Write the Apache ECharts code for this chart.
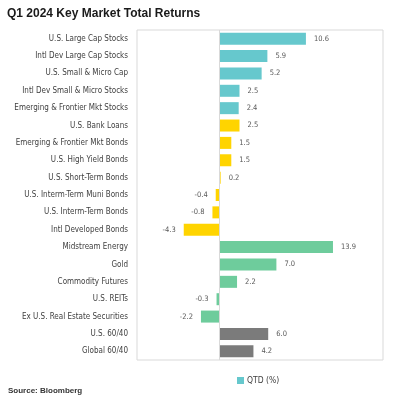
<!DOCTYPE html>
<html>
<head>
<meta charset="utf-8">
<script src="https://cdn.jsdelivr.net/npm/echarts@6/dist/echarts.min.js"></script>
<style>html,body{margin:0;padding:0;background:#fff}#c{width:393px;height:402px}</style>
</head>
<body>
<div id="c"></div>
<script>
const categories = [
  "U.S. Large Cap Stocks","Intl Dev Large Cap Stocks","U.S. Small & Micro Cap",
  "Intl Dev Small & Micro Stocks","Emerging & Frontier Mkt Stocks","U.S. Bank Loans",
  "Emerging & Frontier Mkt Bonds","U.S. High Yield Bonds","U.S. Short-Term Bonds",
  "U.S. Interm-Term Muni Bonds","U.S. Interm-Term Bonds","Intl Developed Bonds",
  "Midstream Energy","Gold","Commodity Futures","U.S. REITs",
  "Ex U.S. Real Estate Securities","U.S. 60/40","Global 60/40"
];
const qtdValues = [10.6, 5.9, 5.2, 2.5, 2.4, 2.5, 1.5, 1.5, 0.2, -0.4, -0.8, -4.3, 13.9, 7.0, 2.2, -0.3, -2.2, 6.0, 4.2];
const groups = ["equity","equity","equity","equity","equity","bond","bond","bond","bond","bond","bond","bond","real","real","real","real","real","mix","mix"];
const groupColors = {equity:"#66C8CD", bond:"#FFD400", real:"#6ECC9C", mix:"#7B7B7B"};

const narrow = "'DejaVu Sans Condensed','Liberation Sans Narrow','Arial Narrow','Roboto',sans-serif";
const chart = echarts.init(document.getElementById('c'), null, {renderer:'canvas'});
chart.setOption({
  animation:false,
  title:[
    {text:"Q1 2024 Key Market Total Returns", left:2, top:3,
     textStyle:{fontFamily:"'Liberation Sans',Arial,sans-serif", fontWeight:'bold', fontSize:12, color:'#1a1a1a'}},
    {text:"Source: Bloomberg", left:3, top:382,
     textStyle:{fontFamily:"'Liberation Sans',Arial,sans-serif", fontWeight:'bold', fontSize:8, color:'#333'}}
  ],
  legend:{
    data:["QTD (%)"], left:232, top:371, itemWidth:7, itemHeight:7, itemGap:4,
    icon:'rect',
    textStyle:{fontFamily:narrow, fontSize:8.5, color:'#404040', padding:[0,0,0,-2]}
  },
  grid:{left:137, right:10, top:30, bottom:42, show:true, borderColor:'#d9d9d9', borderWidth:1, containLabel:false},
  xAxis:{type:'value', min:-10, max:20, axisLabel:{show:false}, axisLine:{show:false}, axisTick:{show:false}, splitLine:{show:false}},
  yAxis:{type:'category', data:categories, inverse:true,
    axisLine:{show:false}, axisTick:{show:false},
    axisLabel:{fontFamily:narrow, fontSize:8, color:'#404040', margin:9}},
  series:[{
    name:"QTD (%)", type:'bar', barWidth:12,
    itemStyle:{color:groupColors.equity},
    data:qtdValues.map((v,i)=>({value:v, itemStyle:{color:groupColors[groups[i]]},
      label:{position: v<0 ? 'left':'right'}})),
    label:{show:true, fontFamily:narrow, fontSize:7.5, color:'#595959', distance:8,
      formatter:p=>p.value.toFixed(1)},
    markLine:{silent:true, symbol:'none', label:{show:false},
      lineStyle:{color:'#d9d9d9', type:'solid', width:1},
      data:[{xAxis:0}]}
  }]
});
</script>
</body>
</html>
